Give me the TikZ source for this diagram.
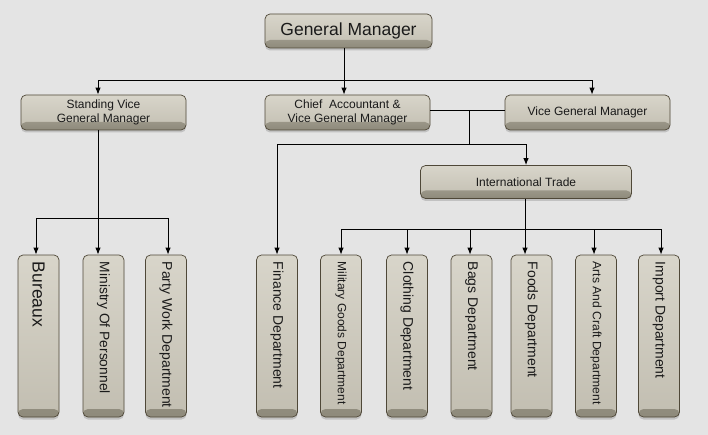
\documentclass[tikz,border=0pt]{standalone}
\usepackage{fontspec}
\setmainfont{Liberation Sans}
\usetikzlibrary{arrows.meta,shadows}
\definecolor{bg}{HTML}{E4E4E4}
\definecolor{boxtop}{HTML}{D8D5CA}
\definecolor{boxbot}{HTML}{C2BEB1}
\definecolor{boxdark}{HTML}{8E8A7B}
\definecolor{boxedge}{HTML}{4F4838}
\definecolor{txt}{HTML}{1A1A1A}
\begin{document}
\begin{tikzpicture}[x=1pt,y=-1pt,
 box/.style={draw=boxedge, line width=0.7pt, rounded corners=5pt,
   top color=boxtop, bottom color=boxbot,
   drop shadow={shadow xshift=0pt, shadow yshift=-2.5pt, opacity=0.35},
   inner sep=0pt, text=txt, align=center,
   path picture={\shade[top color=boxbot, bottom color=boxdark]
     ([yshift=8pt]path picture bounding box.south west) rectangle (path picture bounding box.south east);}},
 hbox/.style={box, minimum height=35pt, minimum width=165pt, font=\fontsize{12}{14}\selectfont},
 vbox/.style={box, minimum width=41pt, minimum height=162pt},
 vtext/.style={rotate=-90, anchor=west, inner sep=0pt, text=txt},
 link/.style={draw=black, line width=1pt},
 arr/.style={link, -{Latex[length=7pt,width=5.5pt]}}
]
\fill[bg] (0,0) rectangle (708,435);
\useasboundingbox (0,0) rectangle (708,435);

\node[hbox, minimum width=167pt, minimum height=34pt, font=\fontsize{17.5}{20}\selectfont] (gm) at (348.5,31) {General Manager};
\node[hbox] (svgm) at (103.5,112.5) {Standing Vice\\General Manager};
\node[hbox] (chief) at (347.5,112.5) {Chief\ \ Accountant \&\\Vice General Manager};
\node[hbox] (vgm) at (587.5,112.5) {Vice General Manager};
\node[hbox, minimum width=211pt, minimum height=33pt] (it) at (526,182) {International Trade};

\foreach \n/\x/\t/\fs in {bur/38.5/Bureaux/17.5, min/103.5/Ministry Of Personnel/13.8, par/166/Party Work Department/14,
  fin/277/Finance Department/14, mil/341/Military Goods Department/12, clo/407/Clothing Department/14,
  bag/471.5/Bags Department/14, foo/531.5/Foods Department/14, art/596/Arts And Craft Department/12.1,
  imp/659/Import Department/14}{
  \node[vbox] (\n) at (\x,336) {};
  \node[vtext, font=\fontsize{\fs}{\fs}\selectfont] (\n-t) at ([yshift=-7pt]\n.north) {\t};
}

% General manager connectors
\draw[link] ([xshift=-4.5pt]gm.south) -- ++(0,32) coordinate (gj);
\draw[arr] (gj) -| ([xshift=-5.5pt]svgm.north);
\draw[arr] (gj) -- ([xshift=-3.5pt]chief.north);
\draw[arr] (gj) -| ([xshift=4.5pt]vgm.north);

% Chief / VGM connectors
\draw[link] ([yshift=2pt]chief.east) -- ([yshift=2pt]vgm.west);
\coordinate (cj) at (469,110.5);
\coordinate (cb) at (469,145);
\draw[link] (cj) -- (cb);
\draw[arr] (cb) -| (fin.north);
\draw[arr] (cb) -| (it.north);

% Standing vice connectors
\draw[link] ([xshift=-5.5pt]svgm.south) -- ++(0,88) coordinate (sj);
\draw[arr] (sj) -| ([xshift=-2.5pt]bur.north);
\draw[arr] (sj) -- ([xshift=-5.5pt]min.north);
\draw[arr] (sj) -| ([xshift=2pt]par.north);

% International trade connectors
\draw[link] ([xshift=-1pt]it.south) -- ++(0,30.5) coordinate (ij);
\draw[arr] (ij) -| (mil.north);
\draw[arr] (ij) -| (clo.north);
\draw[arr] (ij) -| ([xshift=-1.5pt]bag.north);
\draw[arr] (ij) -- ([xshift=-6.5pt]foo.north);
\draw[arr] (ij) -| ([xshift=-2pt]art.north);
\draw[arr] (ij) -| ([xshift=2pt]imp.north);
\end{tikzpicture}
\end{document}
